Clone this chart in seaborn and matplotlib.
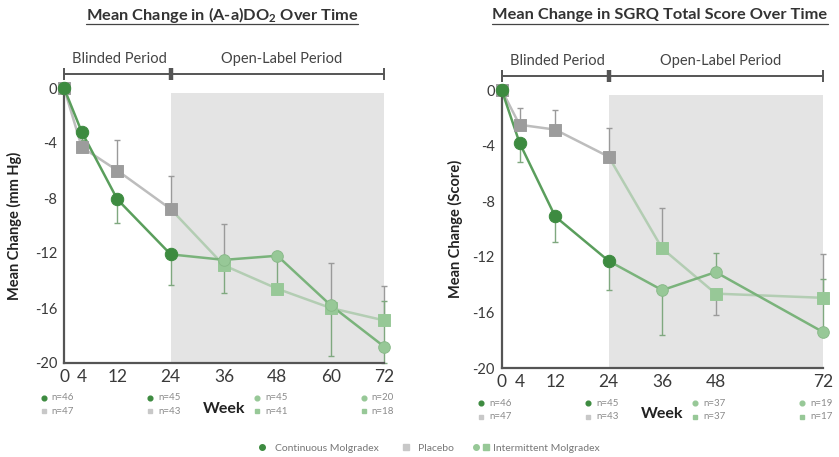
import numpy as np
import pandas as pd
import matplotlib
matplotlib.use('Agg')
import matplotlib.pyplot as plt
import seaborn as sns
from matplotlib.lines import Line2D
from matplotlib.legend_handler import HandlerTuple
import matplotlib.transforms as mtrans

# ---- data ----
weeks_a = [0, 4, 12, 24, 36, 48, 60, 72]
cont_a = [0, -3.2, -8.1, -12.1, -12.5, -12.2, -15.8, -18.8]
cont_a_lo = [0, 0.6, 1.7, 2.2, 2.4, 2.3, 3.7, 1.2]
cont_a_hi = [0, 0, 0, 0, 0, 0, 0, 3.3]
plac_a = [0, -4.3, -6.0, -8.8, -12.9, -14.6, -16.0, -16.9]
plac_a_lo = [0, 0, 0, 0, 0, 0, 0, 0]
plac_a_hi = [0, 0.5, 2.2, 2.4, 3.0, 0, 3.3, 2.5]

weeks_b = [0, 4, 12, 24, 36, 48, 72]
cont_b = [0, -3.8, -9.1, -12.3, -14.4, -13.1, -17.4]
cont_b_lo = [0, 1.4, 1.8, 2.1, 3.2, 0, 0]
cont_b_hi = [0, 0, 0, 0, 0, 1.4, 3.8]
plac_b = [0, -2.5, -2.85, -4.8, -11.4, -14.65, -14.95]
plac_b_lo = [0, 0, 0, 0, 0, 1.55, 0]
plac_b_hi = [0, 1.2, 1.4, 2.05, 2.9, 0, 3.15]

n_weeks = [0, 24, 48, 72]
n_cont_a = ['n=46', 'n=45', 'n=45', 'n=20']
n_plac_a = ['n=47', 'n=43', 'n=41', 'n=18']
n_cont_b = ['n=46', 'n=45', 'n=37', 'n=19']
n_plac_b = ['n=47', 'n=43', 'n=37', 'n=17']

yticks = [0, -4, -8, -12, -16, -20]
open_start = 24

# colours
DARK = '#3d8b40'
DARK_LINE = '#5a9e5c'
GRAY = '#a3a3a3'
GRAY_LINE = '#bdbdbd'
LIGHT = '#97c897'
LIGHT_LINE_C = '#7ab37b'
LIGHT_LINE_P = '#b3cdb3'
SHADE = '#e4e4e4'
TXT = '#3a3a3a'

sns.set_style('white')
plt.rcParams['font.family'] = ['Lato', 'DejaVu Sans']
plt.rcParams['mathtext.fontset'] = 'custom'
plt.rcParams['mathtext.rm'] = 'Lato'
plt.rcParams['mathtext.bf'] = 'Lato:bold'

fig = plt.figure(figsize=(8.39, 4.57), dpi=100)
W, H = 839, 457


def draw_panel(ax, weeks, cont, c_lo, c_hi, plac, p_lo, p_hi, xticks, ylabel, n_c, n_p):
    df = pd.DataFrame({'week': weeks, 'cont': cont, 'plac': plac})
    blind = df[df.week <= open_start]
    openl = df[df.week >= open_start]
    later = df[df.week > open_start]

    ax.fill_between([open_start, 72], -20, -0.35, color=SHADE, zorder=0, lw=0)

    # error bars (one-sided)
    ax.errorbar(weeks, plac, yerr=[p_lo, p_hi], fmt='none', ecolor='#9a9a9a',
                elinewidth=1, capsize=2, capthick=1, zorder=2, clip_on=True)
    ax.errorbar(weeks, cont, yerr=[c_lo, c_hi], fmt='none', ecolor='#7fa87f',
                elinewidth=1, capsize=2, capthick=1, zorder=2, clip_on=True)

    # lines
    sns.lineplot(data=openl, x='week', y='plac', ax=ax, color=LIGHT_LINE_P, lw=1.8, zorder=3)
    sns.lineplot(data=openl, x='week', y='cont', ax=ax, color=LIGHT_LINE_C, lw=1.8, zorder=3)
    sns.lineplot(data=blind, x='week', y='plac', ax=ax, color=GRAY_LINE, lw=1.8, zorder=3)
    sns.lineplot(data=blind, x='week', y='cont', ax=ax, color=DARK_LINE, lw=1.8, zorder=4)

    # markers
    sns.scatterplot(data=later, x='week', y='plac', ax=ax, marker='s', s=70, color=LIGHT,
                    edgecolor=LIGHT, zorder=5)
    sns.scatterplot(data=later, x='week', y='cont', ax=ax, marker='o', s=70, color=LIGHT,
                    edgecolor='#88b988', zorder=5)
    sns.scatterplot(data=blind, x='week', y='plac', ax=ax, marker='s', s=70, color='#9c9c9c',
                    edgecolor='#9c9c9c', zorder=5)
    sns.scatterplot(data=blind, x='week', y='cont', ax=ax, marker='o', s=80, color=DARK,
                    edgecolor=DARK, zorder=6)
    for coll in ax.collections:
        coll.set_clip_on(False)
    for ln in ax.lines:
        ln.set_clip_on(False)

    ax.set_xlim(0, 72)
    ax.set_ylim(-20, 0)
    ax.set_xticks(xticks)
    ax.set_xticklabels([str(x) for x in xticks], fontsize=12.5, color=TXT)
    ax.set_yticks(yticks)
    ax.set_yticklabels([str(y) for y in yticks], fontsize=10.5, color=TXT)
    ax.set_xlabel('')
    ax.set_ylabel(ylabel, fontsize=10.5, fontweight='bold', color='#222222')
    for s in ['top', 'right']:
        ax.spines[s].set_visible(False)
    for s in ['left', 'bottom']:
        ax.spines[s].set_color('#555555')
        ax.spines[s].set_linewidth(1.6)
    ax.tick_params(axis='x', direction='inout', length=7, width=1.3, color='#555555', pad=1)
    ax.tick_params(axis='y', direction='out', length=4, width=1.3, color='#555555', pad=1)

    # period bar above the plot
    ax.plot([0, 72], [1.0, 1.0], color='#555555', lw=1.4, clip_on=False)
    ax.plot([0, 72], [1.0, 1.0], ls='none', marker='|', ms=8, mew=1.4, color='#555555', clip_on=False)
    ax.plot([open_start], [1.0], ls='none', marker='|', ms=8, mew=3.2, color='#555555', clip_on=False)
    ax.text(12.5, 2.1, 'Blinded Period', ha='center', va='center', fontsize=10.5, color='#444444')
    ax.text(49, 2.1, 'Open-Label Period', ha='center', va='center', fontsize=10.5, color='#444444')

    # "Week" label and n= annotations
    tr = mtrans.blended_transform_factory(ax.transData, ax.transAxes)
    ax.text(36, -0.167, 'Week', transform=tr, ha='center', va='center', fontsize=11.5,
            fontweight='bold', color='#222222')
    for i, wk in enumerate(n_weeks):
        cc = DARK if wk <= open_start else LIGHT
        pc = '#c8c8c8' if wk <= open_start else LIGHT
        ax.plot([wk - 4.6], [-0.127], transform=tr, marker='o', ms=3.4, color=cc, clip_on=False)
        ax.plot([wk - 4.6], [-0.175], transform=tr, marker='s', ms=3.4, color=pc, clip_on=False)
        ax.text(wk - 2.8, -0.127, n_c[i], transform=tr, fontsize=7, color='#8a8a8a', va='center')
        ax.text(wk - 2.8, -0.175, n_p[i], transform=tr, fontsize=7, color='#8a8a8a', va='center')


ax1 = fig.add_axes([64 / W, 1 - 363 / H, 320 / W, 275 / H])
ax2 = fig.add_axes([501.7 / W, 1 - 368 / H, 321 / W, 278 / H])

draw_panel(ax1, weeks_a, cont_a, cont_a_lo, cont_a_hi, plac_a, plac_a_lo, plac_a_hi,
           [0, 4, 12, 24, 36, 48, 60, 72], 'Mean Change (mm Hg)', n_cont_a, n_plac_a)
draw_panel(ax2, weeks_b, cont_b, cont_b_lo, cont_b_hi, plac_b, plac_b_lo, plac_b_hi,
           [0, 4, 12, 24, 36, 48, 72], 'Mean Change (Score)', n_cont_b, n_plac_b)
ax1.yaxis.set_label_coords(-0.13, 0.5)
ax2.yaxis.set_label_coords(-0.12, 0.5)

# titles (underlined)
t1 = fig.text(222 / W, 1 - 15 / H, r'Mean Change in (A-a)DO$_\mathbf{2}$ Over Time',
              ha='center', va='center', fontsize=11.8, fontweight='bold', color='#333333')
t2 = fig.text(660 / W, 1 - 15 / H, 'Mean Change in SGRQ Total Score Over Time',
              ha='center', va='center', fontsize=11.8, fontweight='bold', color='#333333')
fig.canvas.draw()
rend = fig.canvas.get_renderer()
for t in (t1, t2):
    bb = t.get_window_extent(rend)
    fig.add_artist(Line2D([bb.x0 / W, bb.x1 / W], [1 - 24 / H, 1 - 24 / H],
                          color='#444444', lw=0.9, transform=fig.transFigure))

# legend at bottom
h_cont = Line2D([], [], ls='none', marker='o', ms=4, color=DARK)
h_plac = Line2D([], [], ls='none', marker='s', ms=4, color='#c8c8c8')
h_int_c = Line2D([], [], ls='none', marker='o', ms=4, color=LIGHT)
h_int_p = Line2D([], [], ls='none', marker='s', ms=4, color=LIGHT)
fig.legend([h_cont, h_plac, (h_int_c, h_int_p)],
           ['Continuous Molgradex', 'Placebo', 'Intermittent Molgradex'],
           handler_map={tuple: HandlerTuple(ndivide=None, pad=0.6)},
           loc='center', bbox_to_anchor=(428 / W, 1 - 448 / H), ncol=3, frameon=False,
           fontsize=7.5, handlelength=1.2, handletextpad=0.6, columnspacing=2.0,
           labelcolor='#777777')

fig.savefig('out.png', dpi=100)
